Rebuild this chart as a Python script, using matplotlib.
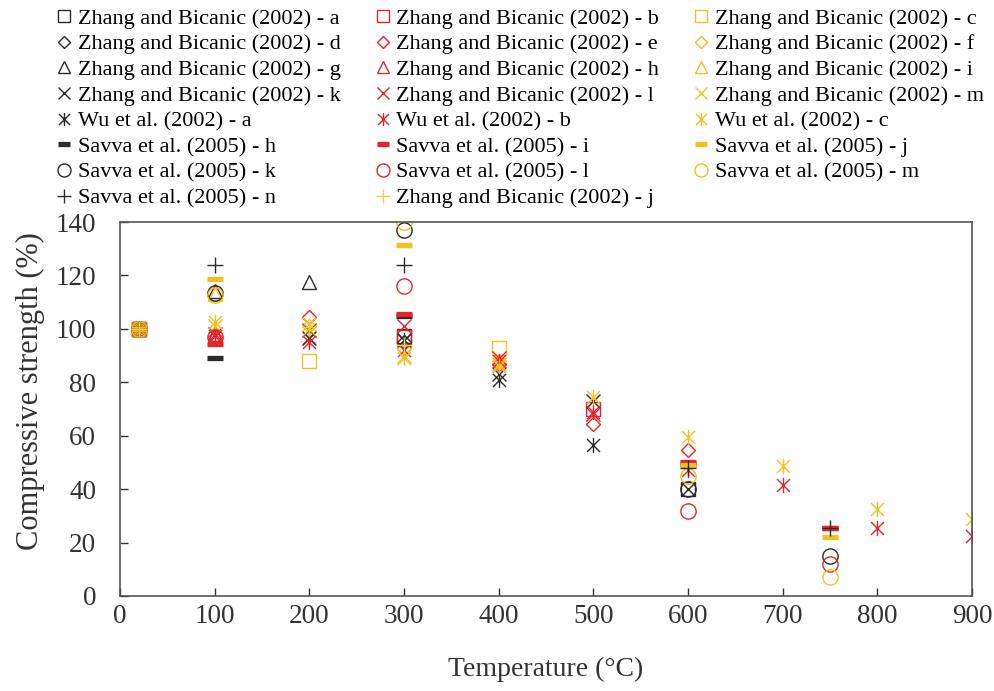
import matplotlib
matplotlib.use('Agg')
import numpy as np
import matplotlib.pyplot as plt
from matplotlib.path import Path

nan = np.nan

#===========================================================================
# Data (normalised compressive strength, %)

zb_temp = [20, 100, 200, 300, 400, 500, 600]
zb_a = [100, nan, nan, 97.5, nan, nan, 40]
zb_b = [100, nan, nan, 97, nan, 70, nan]
zb_c = [100, nan, 88, nan, 93, nan, nan]
zb_d = [100, nan, nan, 95, nan, nan, nan]
zb_e = [100, 97, 104.5, nan, 87, 64.5, 54.5]
zb_f = [100, nan, 101, 93, 88, nan, nan]
zb_g = [100, 114, 117.5, nan, nan, nan, nan]
zb_h = [100, 98, nan, nan, nan, nan, nan]
zb_i = [100, 113, nan, nan, nan, nan, nan]
zb_k = [100, nan, 99.5, 96, 83, 73, 40]
zb_l = [100, 98, 96.5, 101, 89, 68, nan]
zb_m = [100, 101, 102, 90, 87, nan, nan]
zb_j = [100, nan, nan, 94, nan, nan, nan]

wu_temp = [20, 100, 200, 300, 400, 500, 600, 700, 800, 900]
wu_a = [100, nan, 96.5, 96, 81, 56.5, nan, nan, nan, nan]
wu_b = [100, 97.5, 95, 92, 88, 69, 47, 41.5, 25.5, 22.5]
wu_c = [100, 102.5, 100, 89, 86, 74.5, 59.5, 48.5, 32.5, 29]

sv_temp = [20, 100, 300, 600, 750]
sv_h = [100, 89, 105, 49.5, 25.5]
sv_i = [100, 94.5, 105.5, 50, 25.5]
sv_j = [100, 118.5, 131.5, 49, 22]
sv_k = [100, 113.5, 137, 40, 15]
sv_l = [100, 97, 116, 32, 12]
sv_m = [100, 112.5, 140, 45, 7]
sv_n = [100, 124, 124, 48, 25.5]

#===========================================================================
# Styles

blk = '#2b2b2b'
red = '#e3262b'
yel = '#f2c020'
ylt = '#f3d04a'

# 'x' with a vertical bar through it
asterisk = Path([(0, -1), (0, 1), (-0.85, -0.85), (0.85, 0.85), (-0.85, 0.85), (0.85, -0.85)],
                [Path.MOVETO, Path.LINETO, Path.MOVETO, Path.LINETO, Path.MOVETO, Path.LINETO])

# (label, temps, values, marker, colour) in legend reading order (rows)
series = [
  ('Zhang and Bicanic (2002) - a', zb_temp, zb_a, 's', blk),
  ('Zhang and Bicanic (2002) - b', zb_temp, zb_b, 's', red),
  ('Zhang and Bicanic (2002) - c', zb_temp, zb_c, 's', yel),
  ('Zhang and Bicanic (2002) - d', zb_temp, zb_d, 'D', blk),
  ('Zhang and Bicanic (2002) - e', zb_temp, zb_e, 'D', red),
  ('Zhang and Bicanic (2002) - f', zb_temp, zb_f, 'D', yel),
  ('Zhang and Bicanic (2002) - g', zb_temp, zb_g, '^', blk),
  ('Zhang and Bicanic (2002) - h', zb_temp, zb_h, '^', red),
  ('Zhang and Bicanic (2002) - i', zb_temp, zb_i, '^', yel),
  ('Zhang and Bicanic (2002) - k', zb_temp, zb_k, 'x', blk),
  ('Zhang and Bicanic (2002) - l', zb_temp, zb_l, 'x', red),
  ('Zhang and Bicanic (2002) - m', zb_temp, zb_m, 'x', yel),
  ('Wu et al. (2002) - a', wu_temp, wu_a, 'ast', blk),
  ('Wu et al. (2002) - b', wu_temp, wu_b, 'ast', red),
  ('Wu et al. (2002) - c', wu_temp, wu_c, 'ast', yel),
  ('Savva et al. (2005) - h', sv_temp, sv_h, '_', blk),
  ('Savva et al. (2005) - i', sv_temp, sv_i, '_', red),
  ('Savva et al. (2005) - j', sv_temp, sv_j, '_', yel),
  ('Savva et al. (2005) - k', sv_temp, sv_k, 'o', blk),
  ('Savva et al. (2005) - l', sv_temp, sv_l, 'o', red),
  ('Savva et al. (2005) - m', sv_temp, sv_m, 'o', yel),
  ('Savva et al. (2005) - n', sv_temp, sv_n, '+', blk),
  ('Zhang and Bicanic (2002) - j', zb_temp, zb_j, '+', ylt),
]

msize = {'s': 9.5, 'D': 7.5, '^': 10, 'x': 10, 'ast': 11, '_': 11, 'o': 11, '+': 12}

plt.rcParams['font.family'] = ['Liberation Serif', 'DejaVu Serif']

fig = plt.figure(figsize=(9.94, 6.91), dpi=100)
ax = fig.add_axes([0.1207, 0.1375, 0.8573, 0.5412])

handles = []
for lab, tt, vv, mk, col in series:
  mew = 3.8 if mk == '_' else 1.0
  m = asterisk if mk == 'ast' else mk
  h, = ax.plot(tt, vv, linestyle='none', marker=m, ms=msize[mk], mfc='none',
               mec=col, mew=mew, label=lab)
  handles.append(h)

# reorder so the 3-column legend reads row by row
nrow = 8
order = []
for c in range(3):
  for r in range(nrow):
    k = r*3 + c
    if k < len(handles):
      order.append(k)
leg = fig.legend([handles[k] for k in order], [series[k][0] for k in order],
                 ncol=3, loc='upper left', bbox_to_anchor=(0.048, 1.001),
                 frameon=False, fontsize=16, handlelength=0.7, handletextpad=0.25,
                 columnspacing=1.55, labelspacing=0.23, borderaxespad=0.0,
                 markerscale=0.85)

ax.set_xlim(0, 900)
ax.set_ylim(0, 140)
ax.set_xticks(np.arange(0, 901, 100))
ax.set_yticks(np.arange(0, 141, 20))
ax.tick_params(direction='in', length=6, width=1.0, labelsize=19.5, colors='#333333')
ax.tick_params(axis='y', pad=17)
ax.tick_params(axis='x', pad=6)
for s in ax.spines.values():
  s.set_color('#555555')
  s.set_linewidth(1.2)

ax.set_xlabel('Temperature (\u00b0C)', size=20, color='#333333', labelpad=20)
ax.set_ylabel('Compressive strength (%)', size=22, color='#333333')
ax.yaxis.set_label_coords(-0.088, 0.548)

fig.savefig('out.png', dpi=100)
